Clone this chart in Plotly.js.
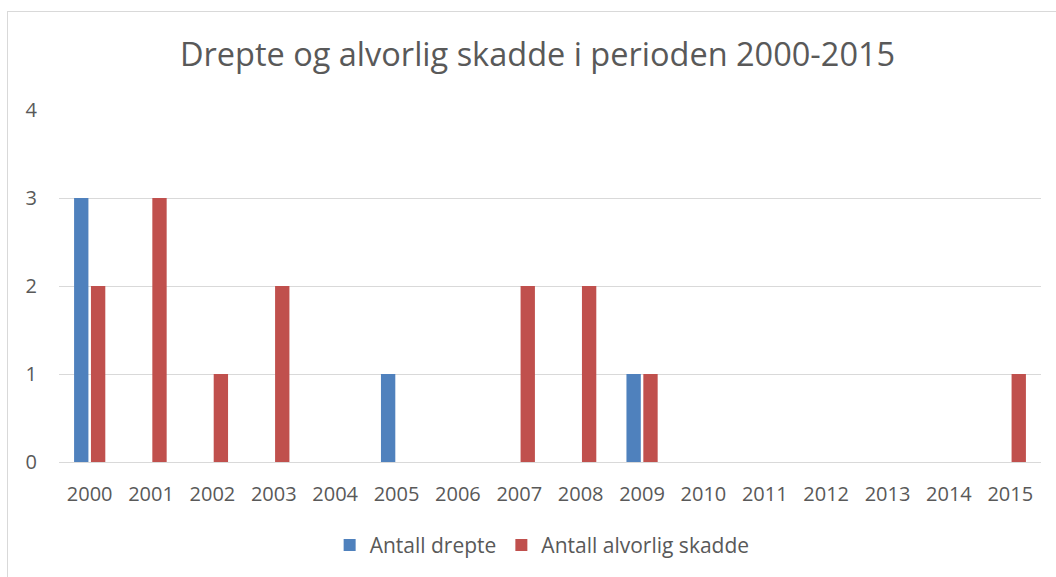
<!DOCTYPE html>
<html><head><meta charset="utf-8">
<script src="https://cdn.plot.ly/plotly-3.0.1.min.js"></script>
<style>
html,body{margin:0;padding:0;background:#fff;overflow:hidden;}
#frame{position:absolute;left:7px;top:11px;width:1049px;height:566px;border-left:1px solid #d9d9d9;border-top:1px solid #d9d9d9;}
#chart{width:1049px;height:566px;}
</style></head>
<body><div id="frame"><div id="chart"></div></div>
<script>
const years = ['2000','2001','2002','2003','2004','2005','2006','2007','2008','2009','2010','2011','2012','2013','2014','2015'];
const drepte = [3,0,0,0,0,1,0,0,0,1,0,0,0,0,0,0];
const alvorligSkadde = [2,3,1,2,0,0,0,2,2,1,0,0,0,0,0,1];
const yTicks = [0,1,2,3,4];

const font = 'Open Sans, Liberation Sans, sans-serif';
const data = [
  {type:'bar', name:'Antall drepte', x:years, y:drepte, marker:{color:'#4f81bd'}},
  {type:'bar', name:'Antall alvorlig skadde', x:years, y:alvorligSkadde, marker:{color:'#c0504d'}}
];
const layout = {
  width:1049, height:566,
  margin:{l:51, r:16, t:98, b:114},
  paper_bgcolor:'#fff', plot_bgcolor:'#fff',
  font:{family:font, color:'#595959', size:20},
  title:{text:'Drepte og alvorlig skadde i perioden 2000-2015', font:{family:font, size:32.5, color:'#595959'}, x:0.5048, xanchor:'center', y:1-43/566, yanchor:'middle', yref:'container'},
  barmode:'group', bargap:0.45, bargroupgap:0.15,
  xaxis:{type:'category', showgrid:false, zeroline:false, showline:true, linecolor:'#d9d9d9', linewidth:1, ticks:'', tickfont:{size:20, color:'#595959'}, ticklabelstandoff:14},
  yaxis:{range:[0,4], tickvals:yTicks, showgrid:true, gridcolor:'#d9d9d9', gridwidth:1, zeroline:false, showline:false, ticks:'', tickfont:{size:20, color:'#595959'}, ticklabelstandoff:21},
  showlegend:true,
  legend:{orientation:'h', x:0.492, xanchor:'center', y:-0.237, yanchor:'middle', font:{size:21, color:'#595959'}, itemwidth:30, traceorder:'normal'}
};
Plotly.newPlot('chart', data, layout, {displayModeBar:false, staticPlot:true});
</script>
</body></html>
